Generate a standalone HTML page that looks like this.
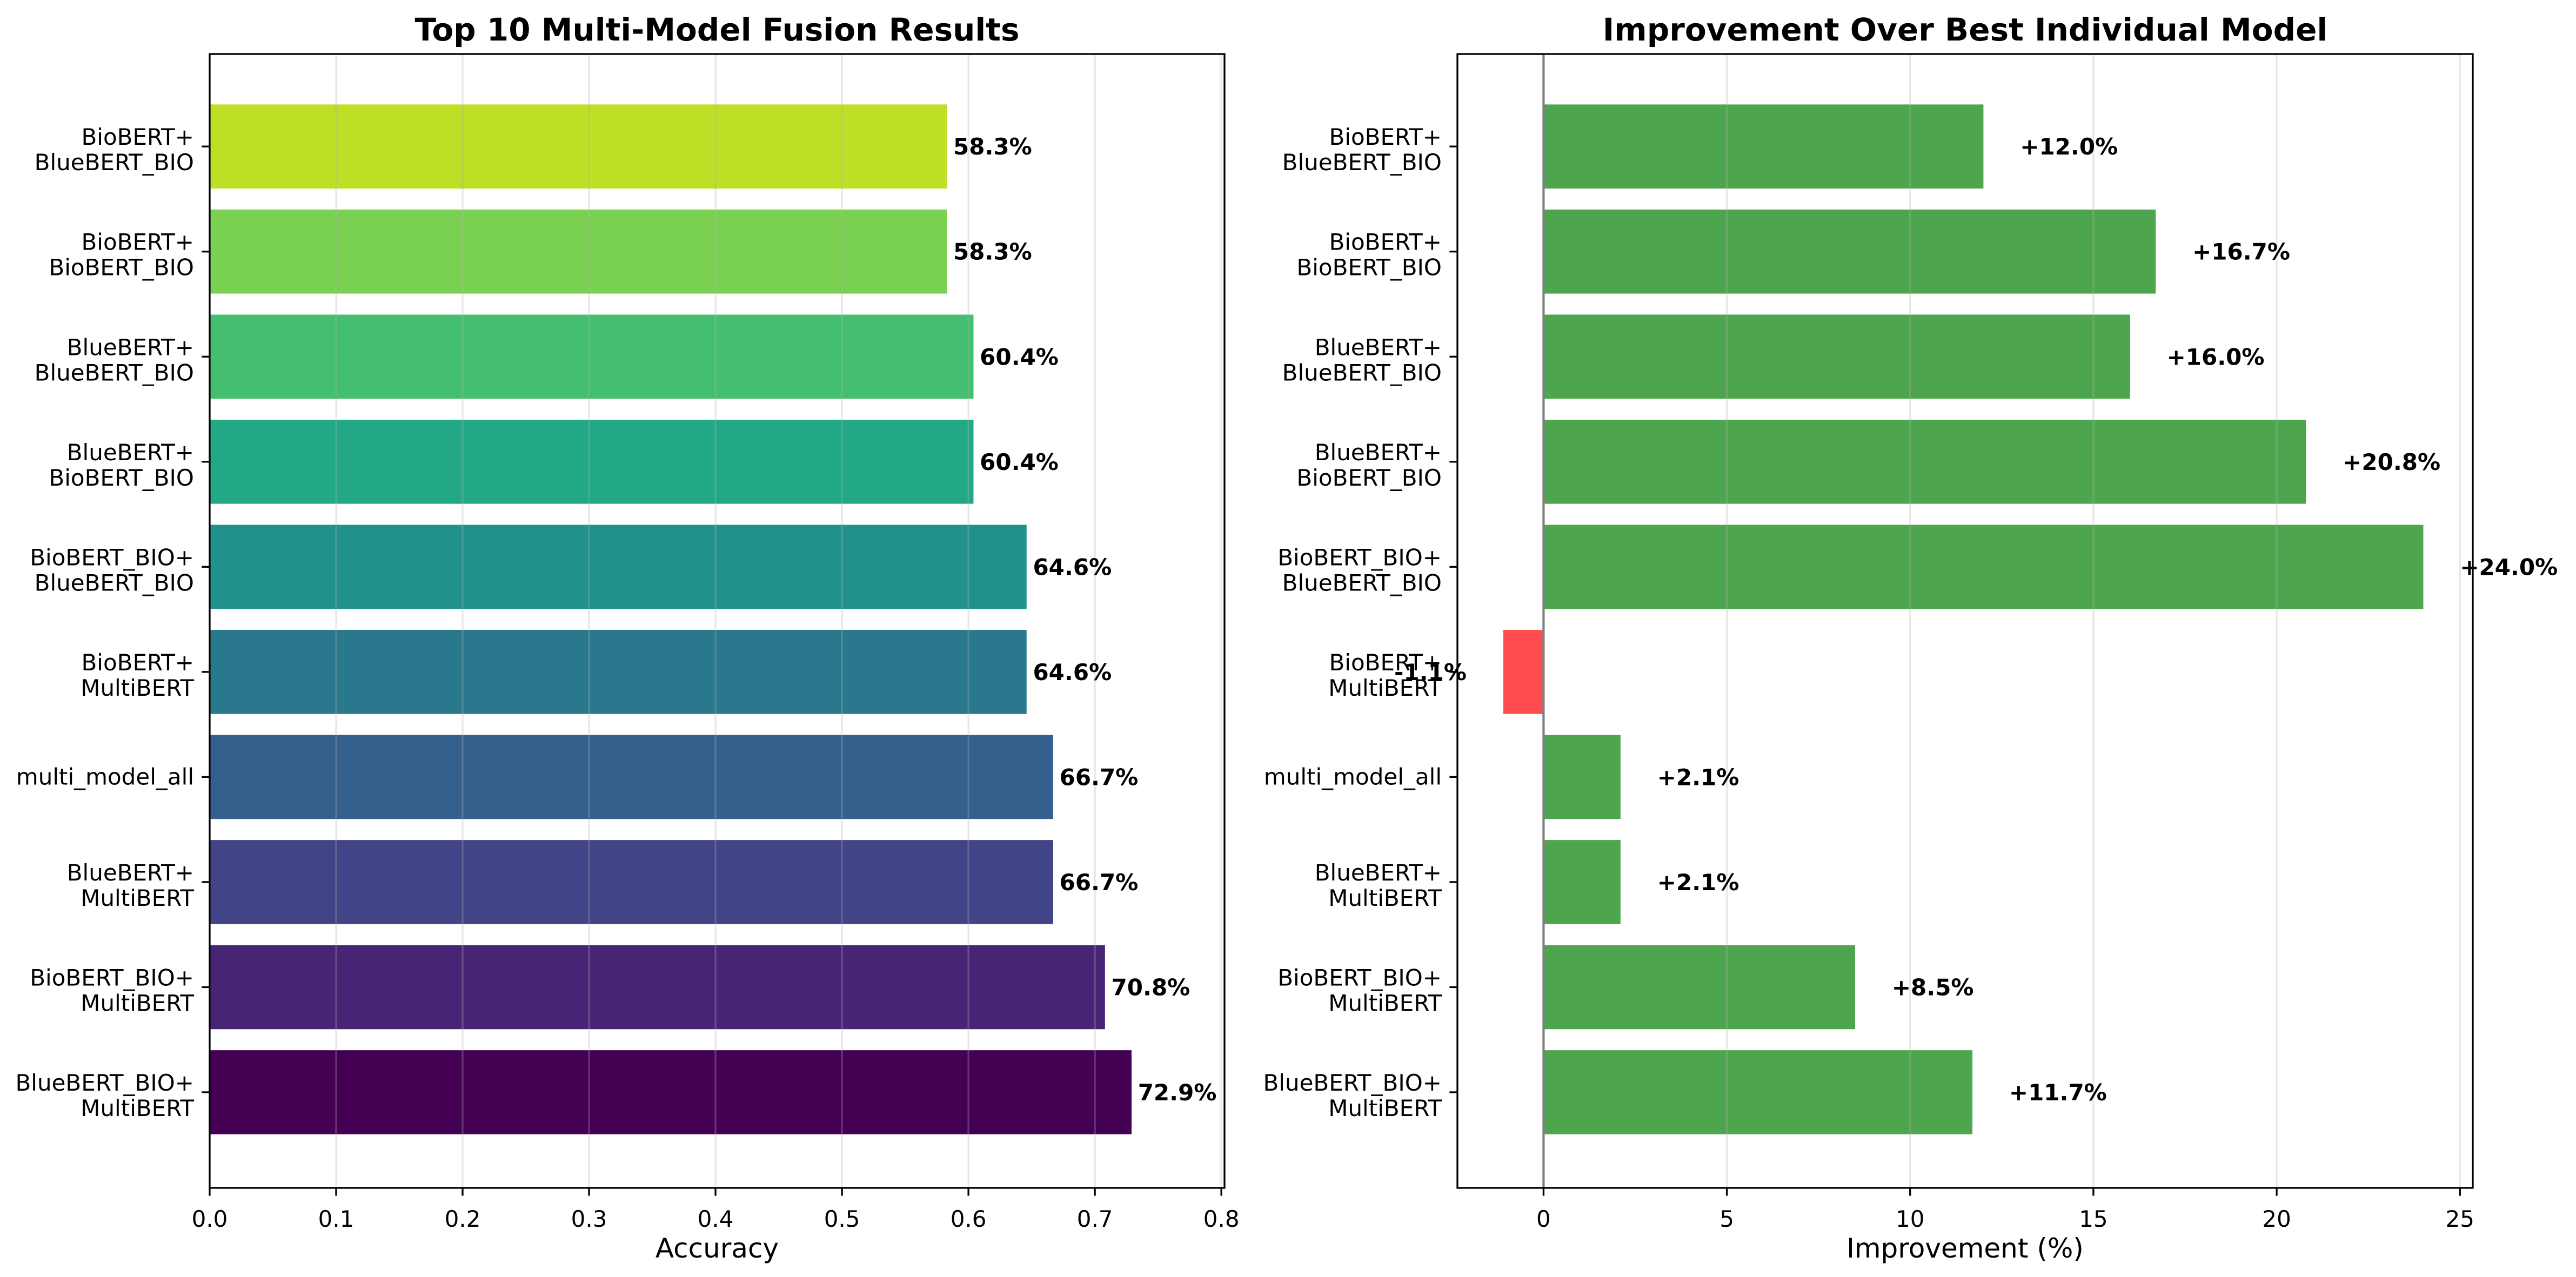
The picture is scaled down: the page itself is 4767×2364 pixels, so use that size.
<!DOCTYPE html>
<html><head><meta charset="utf-8"><style>
html,body{margin:0;padding:0;background:#fff;}
svg{display:block;font-family:"DejaVu Sans","Liberation Sans",sans-serif;}
</style></head><body>
<svg id="fig" width="4767" height="2364" viewBox="0 0 4767 2364" xmlns="http://www.w3.org/2000/svg">
<rect width="4767" height="2364" fill="#fff"/>
<g id="left"></g>
<g id="right"></g>
</svg>
<script>
const categories = ["BioBERT+\nBlueBERT_BIO","BioBERT+\nBioBERT_BIO","BlueBERT+\nBlueBERT_BIO","BlueBERT+\nBioBERT_BIO","BioBERT_BIO+\nBlueBERT_BIO","BioBERT+\nMultiBERT","multi_model_all","BlueBERT+\nMultiBERT","BioBERT_BIO+\nMultiBERT","BlueBERT_BIO+\nMultiBERT"];
const accuracyValues = [0.583,0.583,0.604,0.604,0.646,0.646,0.667,0.667,0.708,0.729];
const accuracyLabels = ["58.3%","58.3%","60.4%","60.4%","64.6%","64.6%","66.7%","66.7%","70.8%","72.9%"];
const barColors = ["#bddf26","#7ad151","#44bf70","#22a884","#21918c","#2a788e","#355f8d","#414487","#482475","#440154"];
const improvementValues = [12.0,16.7,16.0,20.8,24.0,-1.1,2.1,2.1,8.5,11.7];
const accTicks = [0,0.1,0.2,0.3,0.4,0.5,0.6,0.7,0.8];
const accTickLabels = ["0.0","0.1","0.2","0.3","0.4","0.5","0.6","0.7","0.8"];
const impTicks = [0,5,10,15,20,25];
const impTickLabels = ["0","5","10","15","20","25"];

const NS="http://www.w3.org/2000/svg";
function mk(parent,tag,attrs,text){const e=document.createElementNS(NS,tag);for(const k in attrs)e.setAttribute(k,attrs[k]);if(text!==undefined)e.textContent=text;parent.appendChild(e);return e;}

const plotTop=100,plotBottom=2199;
const yMin=-0.88, yMax=9.91;
function yScale(i){return plotTop+(i-yMin)*(plotBottom-plotTop)/(yMax-yMin);}
const bandH=0.8*(plotBottom-plotTop)/(yMax-yMin);

function drawPanel(g,L,R,xMin,xMax,ticks,tickLabels,title,xlabel,isLeft){
  const xs=v=>L+(v-xMin)*(R-L)/(xMax-xMin);
  for(let i=0;i<categories.length;i++){
    const v=isLeft?accuracyValues[i]:improvementValues[i];
    const x0=xs(0),x1=xs(v);
    const fill=isLeft?barColors[i]:(v>=0?"#4da64d":"#ff4d4d");
    const r=mk(g,"rect",{x:Math.min(x0,x1),y:yScale(i)-bandH/2,width:Math.abs(x1-x0),height:bandH,fill:fill});
    
    
  }
  ticks.forEach(t=>{
    const gl=mk(g,"line",{x1:xs(t),x2:xs(t),y1:plotTop,y2:plotBottom,stroke:"#b0b0b0","stroke-opacity":0.3,"stroke-width":3.3});
    
    
  });
  if(!isLeft){
    const zl=mk(g,"line",{x1:xs(0),x2:xs(0),y1:plotTop,y2:plotBottom,stroke:"#808080","stroke-width":4.2});
    
    
  }
  for(let i=0;i<categories.length;i++){
    const c=yScale(i);
    let t;
    if(isLeft){
      t=mk(g,"text",{x:xs(accuracyValues[i]+0.005),y:c+15,"font-size":42,"font-weight":"bold",fill:"#000"},accuracyLabels[i]);
    }else{
      const v=improvementValues[i];
      const s=(v>=0?"+":"")+v.toFixed(1)+"%";
      t=mk(g,"text",{x:xs(v>=0?v+1:v-1),y:c+15,"font-size":42,"font-weight":"bold",fill:"#000","text-anchor":v>=0?"start":"end"},s);
    }
    
    
  }
  const fr=mk(g,"rect",{x:L,y:plotTop,width:R-L,height:plotBottom-plotTop,fill:"none",stroke:"#000","stroke-width":3.3});
  
  
  for(let i=0;i<categories.length;i++){
    const c=yScale(i);
    mk(g,"line",{x1:L-14.6,x2:L,y1:c,y2:c,stroke:"#000","stroke-width":3.3});
    const lines=categories[i].split("\n");
    const tx=L-29;
    const t=mk(g,"text",{x:tx,"font-size":42,fill:"#000","text-anchor":"end"});
    
    
    if(lines.length===1){t.setAttribute("y",c+14);t.textContent=lines[0];}
    else{
      mk(t,"tspan",{x:tx,y:c-3},lines[0]);
      mk(t,"tspan",{x:tx,y:c+44},lines[1]);
    }
  }
  ticks.forEach((tv,k)=>{
    mk(g,"line",{x1:xs(tv),x2:xs(tv),y1:plotBottom,y2:plotBottom+14.6,stroke:"#000","stroke-width":3.3});
    const t=mk(g,"text",{x:xs(tv),y:2271,"font-size":42,fill:"#000","text-anchor":"middle"},tickLabels[k]);
    
    
  });
  const xl=mk(g,"text",{x:(L+R)/2,y:2328,"font-size":50,fill:"#000","text-anchor":"middle"},xlabel);
  
  
  const tt=mk(g,"text",{x:(L+R)/2,y:75,"font-size":58,"font-weight":"bold",fill:"#000","text-anchor":"middle"},title);
  
  
}
drawPanel(document.getElementById("left"),388,2266,0,0.8025,accTicks,accTickLabels,"Top 10 Multi-Model Fusion Results","Accuracy",true);
drawPanel(document.getElementById("right"),2697,4576,-2.35,25.35,impTicks,impTickLabels,"Improvement Over Best Individual Model","Improvement (%)",false);
</script>
</body></html>
